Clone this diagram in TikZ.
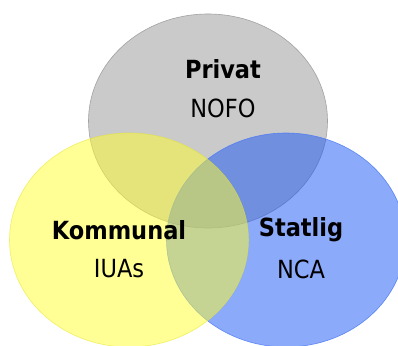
\documentclass[tikz,border=0pt]{standalone}
\usepackage{fontspec}
\setmainfont{DejaVu Sans Condensed}
\usetikzlibrary{shapes.geometric}
\definecolor{privgray}{RGB}{202,202,202}
\definecolor{statblue}{RGB}{25,85,245}
\definecolor{kommyellow}{RGB}{255,255,45}
\begin{document}
\begin{tikzpicture}[x=1pt,y=-1pt,
                    set node/.style={ellipse,minimum width=239pt,minimum height=214pt,inner sep=0pt,outer sep=0pt,line width=0.6pt},
                    title node/.style={font=\fontsize{25}{29}\selectfont\bfseries,inner sep=0pt},
                    sub node/.style={font=\fontsize{25}{29}\selectfont,inner sep=0pt}
                   ]
  \useasboundingbox (0,0) rectangle (398,345);
  \node[set node,fill=privgray,draw=privgray!80!black] (privat set) at (208,121) {};
  \node[set node,fill=statblue,fill opacity=0.5,draw=statblue!80!white,draw opacity=0.8] (statlig set) at (286,240) {};
  \node[set node,fill=kommyellow,fill opacity=0.5,draw=kommyellow!90!black,draw opacity=0.6] (kommunal set) at (129,240) {};

  \node[title node] (privat) at (223,69) {Privat};
  \node[sub node] (nofo) at (223,108) {NOFO};
  \node[title node] (kommunal) at (119,230) {Kommunal};
  \node[sub node] (iuas) at (119,269) {IUAs};
  \node[title node] (statlig) at (301,230) {Statlig};
  \node[sub node] (nca) at (301,269) {NCA};
\end{tikzpicture}
\end{document}
